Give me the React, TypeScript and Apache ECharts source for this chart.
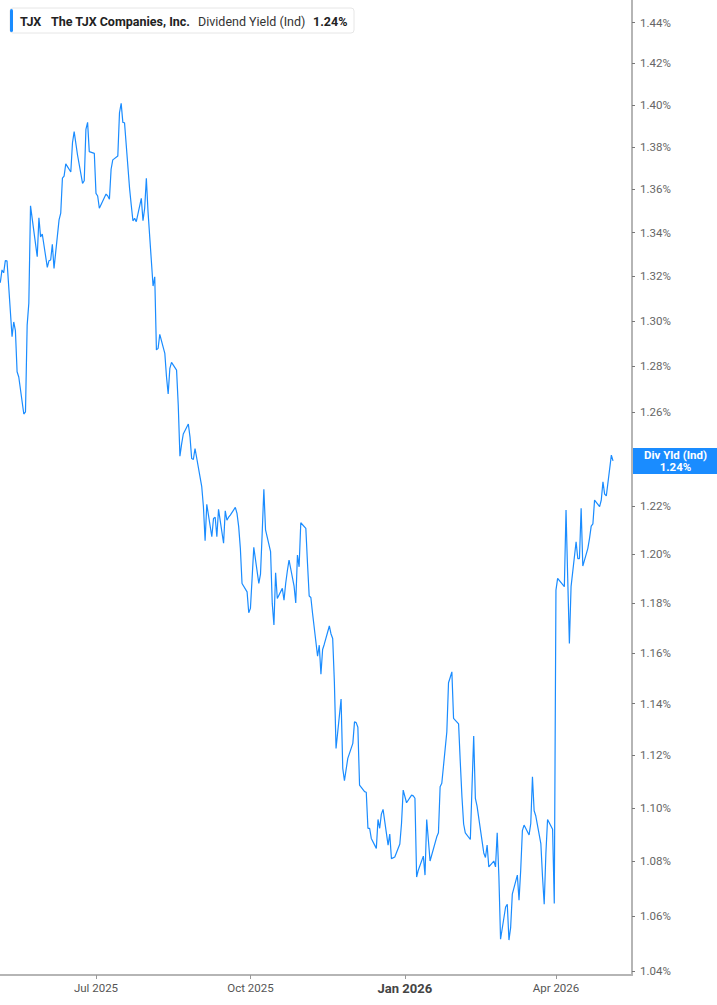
import React, { useEffect, useRef } from 'react';
import * as echarts from 'echarts';

// TJX dividend yield (indicated), %, one value per trading day
const yieldsMayJun2025 = [
  1.3171, 1.3229, 1.3216, 1.3271, 1.327, 1.2929, 1.2995, 1.2956, 1.2775, 1.2752,
  1.2591, 1.26, 1.2981, 1.308, 1.3523, 1.3289, 1.3468, 1.338, 1.3393, 1.3241,
  1.3271, 1.3274, 1.3346, 1.3236, 1.3458, 1.3489, 1.3652, 1.3662, 1.3719, 1.3681,
  1.3819, 1.3872, 1.3761, 1.3628, 1.364, 1.3883, 1.3916, 1.3777, 1.3769,
];
const yieldsQ3_2025 = [
  1.3581, 1.3569, 1.3512, 1.3578, 1.3569, 1.3554, 1.3694, 1.3738, 1.3756, 1.3962,
  1.4007, 1.3916, 1.3914, 1.3605, 1.3527, 1.3454, 1.3465, 1.345, 1.3558, 1.3454,
  1.3512, 1.3652, 1.3496, 1.3156, 1.3198, 1.2871, 1.2878, 1.294, 1.2856, 1.2753,
  1.2678, 1.279, 1.2816, 1.2782, 1.263, 1.241, 1.2462, 1.2505, 1.2548, 1.2493,
  1.24, 1.2396, 1.2443, 1.2281, 1.2197, 1.2055, 1.2207, 1.2072, 1.2148, 1.2153,
  1.2072, 1.2186, 1.2045, 1.218, 1.2141, 1.2153, 1.2162, 1.2194, 1.2169, 1.2114,
  1.2024, 1.188, 1.1846, 1.1761,
];
const yieldsQ4_2025 = [
  1.1779, 1.1901, 1.2028, 1.188, 1.1918, 1.2086, 1.227, 1.21, 1.201, 1.1799,
  1.1712, 1.1924, 1.1819, 1.186, 1.1812, 1.188, 1.1932, 1.1976, 1.1869, 1.1801,
  1.1996, 1.1948, 1.213, 1.2107, 1.1962, 1.1829, 1.1823, 1.1759, 1.1587, 1.1631,
  1.1516, 1.1614, 1.1635, 1.1708, 1.1676, 1.1658, 1.1486, 1.1226, 1.1418, 1.115,
  1.1103, 1.1188, 1.1246, 1.1329, 1.1326, 1.1308, 1.1086, 1.1061, 1.1059, 1.0923,
  1.0923, 1.0885, 1.0848, 1.0956, 1.0923, 1.0976, 1.0994, 1.086, 1.0901, 1.081,
  1.0816, 1.0864, 1.0941, 1.1067,
];
const yieldsQ1_2026 = [
  1.1019, 1.1048, 1.1045, 1.1036, 1.0742, 1.0767, 1.0819, 1.0749, 1.0956, 1.0879,
  1.0801, 1.0891, 1.0906, 1.108, 1.1093, 1.1291, 1.1482, 1.1503, 1.1525, 1.1343,
  1.1321, 1.1175, 1.1042, 1.0939, 1.0906, 1.0881, 1.108, 1.1274, 1.1036, 1.1006,
  1.0831, 1.0814, 1.086, 1.0779, 1.0801, 1.0779, 1.0906, 1.0745, 1.0515, 1.0632,
  1.0642, 1.0512, 1.0557, 1.0679, 1.0749, 1.0657, 1.0767, 1.0914, 1.0935, 1.0898,
  1.0941, 1.1118, 1.0989, 1.0969, 1.0866, 1.0742, 1.0642, 1.0829, 1.0956, 1.0919,
  1.0645,
];
const yieldsAprMay2026 = [
  1.1853, 1.1901, 1.1867, 1.2183, 1.1902, 1.1638, 1.1867, 1.2051, 1.1982, 1.1982,
  1.219, 1.1951, 1.2024, 1.2065, 1.2116, 1.2125, 1.2225, 1.2197, 1.2225, 1.2302,
  1.225, 1.2242, 1.2415, 1.239,
];

const FIRST_DAY = '2025-05-05';
const MARKET_HOLIDAYS = [
  '2025-05-26', '2025-06-19', '2025-07-04', '2025-09-01', '2025-11-27',
  '2025-12-25', '2026-01-01', '2026-01-19', '2026-02-16', '2026-04-03',
];
const X_TICKS = ['2025-07-01', '2025-10-01', '2026-01-01', '2026-04-01'];
const Y_TICKS = [
  1.04, 1.06, 1.08, 1.1, 1.12, 1.14, 1.16, 1.18, 1.2, 1.22,
  1.26, 1.28, 1.3, 1.32, 1.34, 1.36, 1.38, 1.4, 1.42, 1.44,
];
const MONTHS = ['Jan', 'Feb', 'Mar', 'Apr', 'May', 'Jun', 'Jul', 'Aug', 'Sep', 'Oct', 'Nov', 'Dec'];

const DAY = 86400000;
const BLUE = '#1a8cff';

function tradingDays(start: string, count: number) {
  const out: number[] = [];
  let t = Date.parse(start + 'T00:00:00Z');
  while (out.length < count) {
    const d = new Date(t);
    const wd = d.getUTCDay();
    const iso = d.toISOString().slice(0, 10);
    if (wd !== 0 && wd !== 6 && !MARKET_HOLIDAYS.includes(iso)) out.push(t);
    t += DAY;
  }
  return out;
}

export default function App() {
  const chartRef = useRef<HTMLDivElement>(null);

  useEffect(() => {
    if (!chartRef.current) return;
    const chart = echarts.init(chartRef.current, null, { renderer: 'svg' });

    const yields = [
      ...yieldsMayJun2025,
      ...yieldsQ3_2025,
      ...yieldsQ4_2025,
      ...yieldsQ1_2026,
      ...yieldsAprMay2026,
    ];
    const dates = tradingDays(FIRST_DAY, yields.length);
    // log scale: plot ln(yield) on a value axis, label ticks back in %
    const data = dates.map((t, i) => [t, Math.log(yields[i])]);
    const last = yields[yields.length - 1];
    const jul1 = Date.parse('2025-07-01T00:00:00Z');
    const xMin = jul1 - 57.18 * DAY;
    const xMax = jul1 + 319.3 * DAY;

    const font = 'Roboto, "Noto Sans", sans-serif';
    const header = [
      {
        type: 'rect',
        z: 10,
        shape: { x: 10, y: 8, width: 344, height: 25, r: 3 },
        style: { fill: '#fff', stroke: '#e6e6e6', lineWidth: 1 },
      },
      {
        type: 'rect',
        z: 11,
        shape: { x: 10, y: 9, width: 3, height: 23, r: 1.5 },
        style: { fill: BLUE },
      },
      {
        type: 'text',
        z: 11,
        x: 20,
        y: 21,
        style: { text: 'TJX', fontSize: 12.5, fontWeight: 'bold', fontFamily: font, fill: '#222', verticalAlign: 'middle' },
      },
      {
        type: 'text',
        z: 11,
        x: 51,
        y: 21,
        style: { text: 'The TJX Companies, Inc.', fontSize: 12.5, fontWeight: 'bold', fontFamily: font, fill: '#222', verticalAlign: 'middle' },
      },
      {
        type: 'text',
        z: 11,
        x: 198,
        y: 21,
        style: { text: 'Dividend Yield (Ind)', fontSize: 12.5, fontFamily: font, fill: '#333', verticalAlign: 'middle' },
      },
      {
        type: 'text',
        z: 11,
        x: 313,
        y: 21,
        style: { text: last.toFixed(2) + '%', fontSize: 12.5, fontWeight: 'bold', fontFamily: font, fill: '#222', verticalAlign: 'middle' },
      },
    ];

    const option = {
      animation: false,
      backgroundColor: '#fff',
      grid: { left: 0, right: 85, top: 0, bottom: 30, containLabel: false, outerBoundsMode: 'none' },
      xAxis: {
        type: 'value',
        min: xMin,
        max: xMax,
        splitLine: { show: false },
        axisLine: { show: true, onZero: false, lineStyle: { color: '#b5b5b5', width: 2 } },
        axisTick: {
          show: true,
          length: 4,
          customValues: X_TICKS.map((d) => Date.parse(d + 'T00:00:00Z')),
          lineStyle: { color: '#999' },
        },
        axisLabel: {
          customValues: X_TICKS.map((d) => Date.parse(d + 'T00:00:00Z')),
          margin: 7,
          fontSize: 11.5,
          fontFamily: font,
          color: '#555',
          formatter: (v: number) => {
            const d = new Date(v);
            const m = MONTHS[d.getUTCMonth()];
            const label = `${m} ${d.getUTCFullYear()}`;
            return m === 'Jan' ? `{b|${label}}` : label;
          },
          rich: {
            b: { fontSize: 13, fontWeight: 'bold', color: '#444', fontFamily: font },
          },
        },
      },
      yAxis: {
        type: 'value',
        position: 'right',
        min: Math.log(1.03868),
        max: Math.log(1.45126),
        splitLine: { show: false },
        axisLine: { show: true, onZero: false, lineStyle: { color: '#b5b5b5', width: 2 } },
        axisTick: {
          show: true,
          length: 3,
          customValues: Y_TICKS.map((v) => Math.log(v)),
          lineStyle: { color: '#777' },
        },
        axisLabel: {
          customValues: Y_TICKS.map((v) => Math.log(v)),
          margin: 8,
          fontSize: 11.5,
          fontFamily: font,
          color: '#666',
          formatter: (v: number) => Math.exp(v).toFixed(2) + '%',
        },
      },
      series: [
        {
          type: 'line',
          data,
          showSymbol: false,
          symbol: 'none',
          lineStyle: { color: BLUE, width: 1.2 },
        },
      ],
      graphic: header,
    };

    chart.setOption(option as any);

    // last-value tag on the price axis, placed through the chart's own scales
    const tagX = chart.convertToPixel({ xAxisIndex: 0 }, xMax) as number;
    const tagY = chart.convertToPixel({ yAxisIndex: 0 }, Math.log(last)) as number;
    chart.setOption({
      graphic: [
        ...header,
        {
          type: 'text',
          z: 12,
          x: tagX + 1,
          y: tagY,
          style: {
            text: `{t|Div Yld (Ind)}\n{t|${last.toFixed(2)}%}`,
            align: 'left',
            verticalAlign: 'middle',
            backgroundColor: BLUE,
            padding: [1, 0, 1, 0],
            rich: {
              t: {
                width: 85,
                align: 'center',
                fill: '#fff',
                color: '#fff',
                fontWeight: 'bold',
                fontSize: 11.5,
                lineHeight: 12,
                fontFamily: font,
              },
            },
          },
        },
      ],
    } as any);

    const resizeObserver = new ResizeObserver(() => chart.resize());
    resizeObserver.observe(chartRef.current);

    return () => {
      resizeObserver.disconnect();
      chart.dispose();
    };
  }, []);

  return (
    <div
      ref={chartRef}
      style={{ position: 'fixed', left: 0, top: 0, width: '100vw', height: '100vh' }}
    />
  );
}
